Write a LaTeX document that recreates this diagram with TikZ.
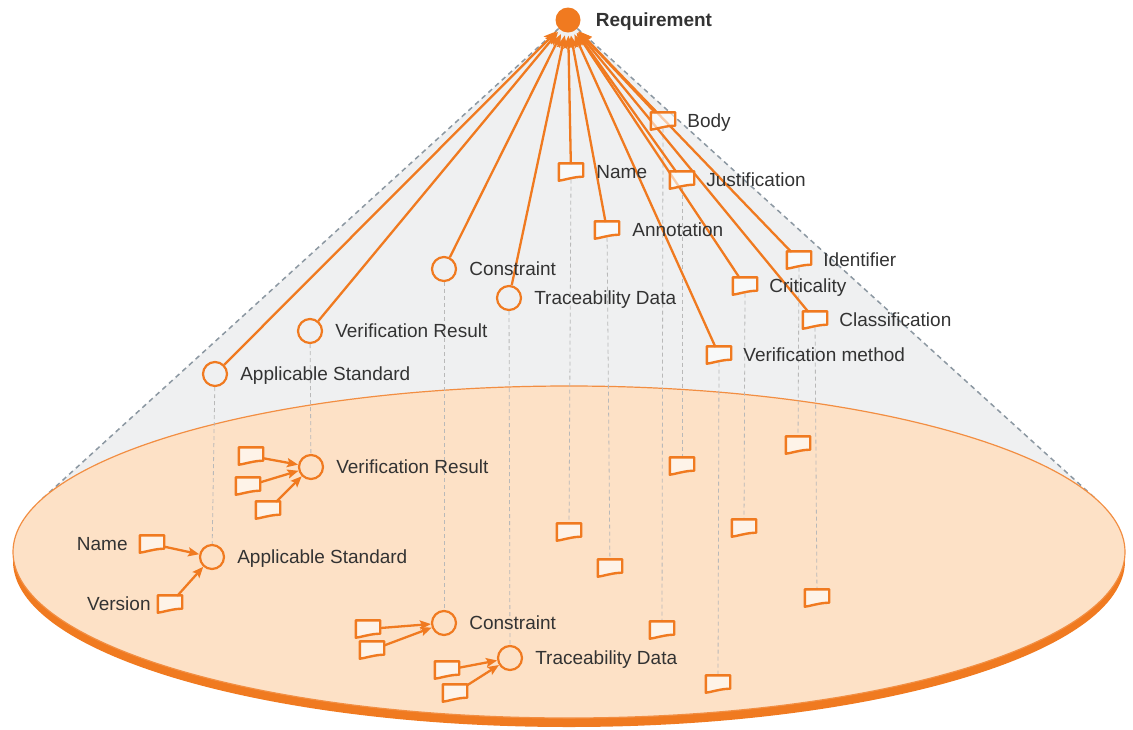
\documentclass[tikz,border=0pt]{standalone}
\usepackage{fontspec}
\setmainfont{Liberation Sans}
\usetikzlibrary{arrows.meta,positioning,calc}

\definecolor{accent}{RGB}{240,122,32}
\definecolor{disc}{RGB}{253,225,198}
\definecolor{conefill}{RGB}{239,240,241}
\definecolor{ink}{RGB}{51,51,51}
\definecolor{slate}{RGB}{140,152,162}

\pgfdeclarelayer{base}
\pgfdeclarelayer{links}
\pgfsetlayers{base,links,main}

\tikzset{
  lbl/.style={text=ink, font=\fontsize{19}{22}\selectfont, inner sep=0pt,
    text height=13.6pt, text depth=0pt},
  reqdot/.style={circle, fill=accent, minimum size=25pt, inner sep=0pt},
  item/.style={circle, draw=accent, line width=2.2pt, minimum size=24pt, inner sep=0pt},
  docbox/.style={rectangle, minimum width=24pt, minimum height=15pt, inner sep=0pt,
    append after command={\pgfextra{\let\thisdoc\tikzlastnode
      \draw[accent, line width=2.4pt, fill=white, fill opacity=0.6, line join=round]
        ([yshift=1pt]\thisdoc.north west) -- ([yshift=1pt]\thisdoc.north east)
        -- ([yshift=3pt]\thisdoc.south east)
        .. controls ([xshift=-9pt,yshift=3pt]\thisdoc.south east)
           and ([xshift=7pt,yshift=0pt]\thisdoc.south west)
        .. ([yshift=-1pt]\thisdoc.south west) -- cycle;}}},
  link/.style={draw=accent, line width=2.3pt, -{Stealth[length=11pt,width=9pt,inset=2pt]}},
  uplink/.style={link, shorten >=3pt, -{Stealth[length=13pt,width=11pt,inset=2.5pt]}},
  drop/.style={draw=gray!55, line width=0.8pt, dash pattern=on 4pt off 3pt},
  conedash/.style={draw=slate, line width=1.5pt, dash pattern=on 5pt off 4pt},
}

\begin{document}
\begin{tikzpicture}[x=1pt, y=-1pt]
\useasboundingbox (0,0) rectangle (1133,729);

% apex
\node[reqdot] (req) at (568,20) {};
\node[lbl, font=\fontsize{19}{22}\selectfont\bfseries, right=15pt of req] (reqlbl) {Requirement};

% tangent points of the cone on the disc
\coordinate (tl) at (41,500);
\coordinate (tr) at (1097,500);

% upper level: composite attributes
\node[item] (as1) at (215,374) {};
\node[item] (vr1) at (310,331) {};
\node[item] (co1) at (444,269) {};
\node[item] (td1) at (509,298) {};
\node[lbl, right=12pt of as1] {Applicable Standard};
\node[lbl, right=12pt of vr1] {Verification Result};
\node[lbl, right=12pt of co1] {Constraint};
\node[lbl, right=12pt of td1] {Traceability Data};

% upper level: simple attributes
\node[docbox] (body) at (663,121) {};
\node[docbox] (nm1)  at (571,172) {};
\node[docbox] (just) at (682,180) {};
\node[docbox] (anno) at (607,230) {};
\node[docbox] (iden) at (799,260) {};
\node[docbox] (crit) at (745,286) {};
\node[docbox] (clas) at (815,320) {};
\node[docbox] (vm)   at (719,355) {};
\node[lbl, right=12pt of body] {Body};
\node[lbl, right=13pt of nm1] {Name};
\node[lbl, right=12pt of just] {Justification};
\node[lbl, right=13pt of anno] {Annotation};
\node[lbl, right=12pt of iden] {Identifier};
\node[lbl, right=12pt of crit] {Criticality};
\node[lbl, right=12pt of clas] {Classification};
\node[lbl, right=12pt of vm] {Verification method};

% lower level: composite attributes
\node[item] (as2) at (212,557) {};
\node[item] (vr2) at (311,467) {};
\node[item] (co2) at (444,623) {};
\node[item] (td2) at (510,658) {};
\node[lbl, right=12pt of as2] {Applicable Standard};
\node[lbl, right=12pt of vr2] {Verification Result};
\node[lbl, right=12pt of co2] {Constraint};
\node[lbl, right=12pt of td2] {Traceability Data};

% their parts
\node[docbox] (vra) at (251,456) {};
\node[docbox] (vrb) at (248,486) {};
\node[docbox] (vrc) at (268,510) {};
\node[docbox] (asn) at (152,544) {};
\node[docbox] (asv) at (170,604) {};
\node[docbox] (coa) at (368,629) {};
\node[docbox] (cob) at (372,650) {};
\node[docbox] (tda) at (447,670) {};
\node[docbox] (tdb) at (455,693) {};
\node[lbl, left=12pt of asn] {Name};
\node[lbl, left=7pt of asv] {Version};

% lower level: simple attributes
\node[docbox] (nm2) at (569,532) {};
\node[docbox] (an2) at (610,568) {};
\node[docbox] (bo2) at (662,630) {};
\node[docbox] (ju2) at (682,466) {};
\node[docbox] (vm2) at (718,684) {};
\node[docbox] (cr2) at (744,528) {};
\node[docbox] (id2) at (798,445) {};
\node[docbox] (cl2) at (817,598) {};

\begin{pgfonlayer}{base}
  \fill[conefill] (req.center) -- (tl) -- (tr) -- cycle;
  \draw[conedash] (req) -- (tl);
  \draw[conedash] (req) -- (tr);
  \fill[accent] (569,561) ellipse [x radius=556pt, y radius=166pt];
  \draw[accent!85, line width=1.2pt, fill=disc] (569,552) ellipse [x radius=556pt, y radius=166pt];
\end{pgfonlayer}

\begin{pgfonlayer}{links}
  % projections from the upper level onto the disc
  \foreach \u/\l in {as1/as2, vr1/vr2, co1/co2, td1/td2, nm1/nm2, anno/an2,
                     body/bo2, just/ju2, vm/vm2, crit/cr2, iden/id2, clas/cl2}
    \draw[drop] (\u) -- (\l);
  % attributes pointing to the requirement
  \foreach \n in {as1, vr1, co1, td1, body, nm1, just, anno, iden, crit, clas, vm}
    \draw[uplink] (\n) -- (req);
  % parts pointing to their composite attribute
  \draw[link] (vra) -- (vr2);
  \draw[link] (vrb) -- (vr2);
  \draw[link] (vrc) -- (vr2);
  \draw[link] (asn) -- (as2);
  \draw[link] (asv) -- (as2);
  \draw[link] (coa) -- (co2);
  \draw[link] (cob) -- (co2);
  \draw[link] (tda) -- (td2);
  \draw[link] (tdb) -- (td2);
\end{pgfonlayer}
\end{tikzpicture}
\end{document}
